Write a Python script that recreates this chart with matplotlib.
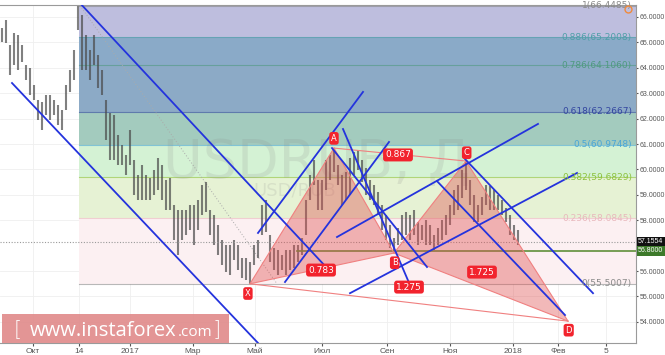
import matplotlib
matplotlib.use("Agg")
import matplotlib.pyplot as plt
from matplotlib.patches import Rectangle

# bar highs / lows (one bar per index)
highs = [65.57, 65.88, 64.90, 65.37, 65.29, 64.90, 64.11, 63.99, 63.32, 62.73,
         62.65, 62.93, 62.93, 62.73, 62.54, 62.34, 63.32, 63.91, 64.70, 66.45,
         66.08, 65.29, 64.70, 65.29, 64.50, 63.91, 62.73, 62.22, 62.14, 61.35,
         60.96, 60.57, 61.55, 60.37, 59.78, 60.17, 59.78, 59.66, 59.98, 60.45,
         60.17, 59.58, 59.66, 58.60, 58.40, 58.40, 58.40, 58.60, 58.60, 58.80,
         59.39, 59.50, 58.40, 58.21, 57.81, 57.22, 57.02, 57.02, 57.22, 57.02,
         56.51, 56.51, 56.35, 57.02, 57.22, 58.60, 58.80, 57.42, 56.91, 56.83,
         56.63, 56.83, 56.83, 57.02, 57.02, 57.30, 58.80, 59.78, 60.37, 59.58,
         59.58, 60.37, 60.57, 60.84, 60.17, 59.78, 59.90, 60.45, 60.68, 60.76,
         60.37, 60.05, 59.58, 59.39, 59.11, 58.60, 58.21, 57.81, 57.30, 57.69,
         58.21, 58.32, 58.21, 58.40, 57.93, 57.81, 58.01, 57.81, 57.42, 57.69,
         58.01, 58.21, 58.60, 59.19, 59.39, 59.98, 60.33, 59.58, 58.99, 58.60,
         58.91, 59.39, 59.35, 59.19, 58.99, 58.80, 58.48, 58.21, 57.81, 57.61]
lows = [65.02, 64.98, 63.72, 64.11, 63.91, 64.23, 63.52, 62.93, 62.73, 61.94,
        61.55, 62.14, 61.94, 62.14, 61.75, 61.55, 62.34, 63.05, 63.52, 65.49,
        63.91, 63.91, 63.52, 64.11, 63.20, 62.93, 61.16, 60.37, 60.37, 60.17,
        60.17, 59.78, 60.17, 58.99, 58.80, 58.80, 58.80, 58.80, 58.99, 59.19,
        58.80, 58.40, 58.40, 57.22, 56.63, 57.22, 57.42, 57.61, 57.02, 57.61,
        58.21, 58.32, 57.42, 57.02, 56.63, 56.24, 55.96, 55.84, 56.43, 56.04,
        55.72, 55.65, 55.50, 56.24, 56.51, 57.42, 57.53, 56.35, 56.04, 55.84,
        56.04, 55.84, 56.04, 56.12, 56.35, 56.63, 57.42, 58.80, 59.39, 58.40,
        58.40, 59.19, 59.58, 59.90, 59.39, 58.60, 58.80, 58.99, 59.78, 59.98,
        59.50, 58.99, 58.80, 58.60, 58.21, 57.61, 57.22, 56.91, 56.71, 57.02,
        57.22, 57.42, 57.22, 57.42, 57.02, 57.22, 57.02, 57.02, 56.83, 57.02,
        57.22, 57.42, 57.81, 58.21, 58.40, 58.87, 59.19, 58.60, 57.93, 57.93,
        58.21, 58.60, 58.40, 58.40, 58.40, 58.21, 57.93, 57.42, 57.22, 57.02]

last_price = 57.1554
level_price = 56.8000
level_start = 73.75

# fibonacci retracement
fib_ratios = [1, 0.886, 0.786, 0.618, 0.5, 0.382, 0.236, 0]
fib_prices = [66.4485, 65.2008, 64.1060, 62.2667, 60.9748, 59.6829, 58.0845, 55.5007]
fib_start = 19.25
fib_trend_x = [19.5, 68.75]
fib_trend_p = [66.45, 55.50]

# harmonic pattern points
pat_names = ["X", "A", "B", "C", "D"]
pat_x = [62, 83, 98, 116, 141.5]
pat_p = [55.50, 60.84, 56.71, 60.33, 54.03]

ratio_text = ["0.783", "0.867", "1.275", "1.725"]
ratio_x = [79.75, 99, 101.75, 120]
ratio_p = [56.04, 60.57, 55.37, 55.96]

# trend lines (start index, start price, end index, end price)
tl_x0 = [18.75, 2.5, 64, 70.75, 85.25, 82.5, 83.75, 87, 108.75, 115.75]
tl_p0 = [66.67, 63.40, 57.50, 55.57, 61.59, 60.84, 57.34, 55.13, 59.54, 60.41]
tl_x1 = [81.25, 64, 90.25, 96.75, 102, 106.25, 134, 143.75, 140.75, 147.75]
tl_p1 = [56.12, 53.17, 63.05, 61.08, 55.45, 56.16, 61.79, 59.86, 54.27, 55.13]

tick_pos = [7.75, 19.25, 32, 47.75, 63.25, 80, 96.25, 112, 127.75, 139, 151]
tick_lab = ["Окт", "14", "2017", "Мар", "Май", "Июл", "Сен", "Ноя", "2018", "Фев", "5"]
price_ticks = [54, 55, 56, 58, 59, 60, 61, 62, 63, 64, 65, 66]

band_colors = ["#BEBEDE", "#8AAAC8", "#8CAAC6", "#A3CBBE", "#D4F2D4", "#E6F2D4", "#FCF0F2"]
label_colors = ["#8a8a8a", "#4f9fa8", "#4f9a80", "#3346a0", "#4aa6d6", "#8cc23c", "#e8b8bc", "#8a8a8a"]

fig = plt.figure(figsize=(6.65, 3.55), dpi=100)
ax = fig.add_axes([0, 12 / 355, 636 / 665, 338 / 355])
xmax = 158.5
ax.set_xlim(-0.5, xmax)
ax.set_ylim(53.17, 66.47)

ax.grid(color="#efefef", lw=0.6, zorder=0)
ax.set_axisbelow(True)

# -------- fib bands --------
for k in range(len(fib_prices) - 1):
    ax.fill_between([fib_start, xmax], fib_prices[k + 1], fib_prices[k],
                    color=band_colors[k], lw=0, zorder=1)
for k, (r, p) in enumerate(zip(fib_ratios, fib_prices)):
    ax.plot([fib_start, xmax], [p, p], color=label_colors[k], lw=0.8, alpha=0.6, zorder=1.5)
    ax.text(157.5, p, f"{r:g}({p:.4f})", ha="right", va="center",
            fontsize=6.5, color=label_colors[k], zorder=6)
ax.plot(fib_trend_x, fib_trend_p, color="#aaaaaa", lw=0.7, ls=(0, (1, 2)), zorder=1.6)
ax.plot([156.5], [66.33], "o", mfc="none", mec="#f08a3c", ms=5, mew=1, zorder=7)

# -------- watermarks --------
ax.text(40.25, 59.65, "USDRUB, Д", fontsize=39, color="#888888", alpha=0.16,
        ha="left", va="baseline", zorder=1.8)
ax.text(62.75, 58.99, "USD/RUB", fontsize=13, color="#888888", alpha=0.16,
        ha="left", va="baseline", zorder=1.8)

# -------- price bars --------
idx = list(range(len(highs)))
ax.vlines(idx, lows, highs, color="#4a4a4a", lw=1.5, alpha=0.7, zorder=2)

# -------- horizontal price lines --------
ax.axhline(last_price, color="#9a9a9a", lw=0.8, ls=(0, (1, 1.5)), zorder=2.5)
ax.plot([level_start, xmax], [level_price, level_price], color="#5f8f3a", lw=1.2, zorder=2.5)

# -------- harmonic pattern --------
pink = "#E05050"
edge = "#F08080"
ax.fill(pat_x[0:3], pat_p[0:3], color=pink, alpha=0.4, lw=0, zorder=3)
ax.fill(pat_x[2:5], pat_p[2:5], color=pink, alpha=0.4, lw=0, zorder=3)
for a, b in [(0, 1), (1, 2), (0, 2), (2, 3), (3, 4), (2, 4), (1, 3), (0, 4)]:
    ax.plot([pat_x[a], pat_x[b]], [pat_p[a], pat_p[b]], color=edge, lw=0.8, zorder=3.2)

# -------- trend lines --------
for x0, p0, x1, p1 in zip(tl_x0, tl_p0, tl_x1, tl_p1):
    ax.plot([x0, x1], [p0, p1], color="#2433DD", lw=1.3, zorder=4)

box = dict(boxstyle="round,pad=0.22,rounding_size=0.3", fc="#F2232D", ec="none")
for t, x, p in zip(ratio_text, ratio_x, ratio_p):
    ax.text(x, p, t, ha="center", va="center", fontsize=6.5, color="white", bbox=box, zorder=8)
offsets = [(-1.5, -7), (0, 7), (0.5, -7), (0.5, 6), (0.5, -6.5)]
for name, x, p, off in zip(pat_names, pat_x, pat_p, offsets):
    ax.annotate(name, (x, p), xytext=off, textcoords="offset points", ha="center", va="center",
                fontsize=6, color="white", bbox=box, zorder=8)

# -------- instaforex box --------
ax.add_patch(Rectangle((0.003, 0.0), 0.357, 0.085, transform=ax.transAxes,
                       fc="#E08A8A", ec="none", alpha=0.9, zorder=9))
ax.text(0.022, 0.04, "[", transform=ax.transAxes, fontsize=15, color="white",
        ha="left", va="center", zorder=10, fontweight="light")
ax.text(0.047, 0.036, "www.instaforex", transform=ax.transAxes, fontsize=14.5, color="white",
        ha="left", va="center", zorder=10, family="Open Sans")
ax.text(0.279, 0.03, ".com", transform=ax.transAxes, fontsize=11, color="white",
        ha="left", va="center", zorder=10, family="Open Sans")
ax.text(0.334, 0.04, "]", transform=ax.transAxes, fontsize=15, color="white",
        ha="left", va="center", zorder=10, fontweight="light")

# -------- axes --------
ax.set_xticks(tick_pos)
ax.set_xticklabels(tick_lab, family="Liberation Sans")
ax.yaxis.tick_right()
ax.set_yticks(price_ticks)
ax.set_yticklabels([f"{v:.4f}" for v in price_ticks], family="Liberation Sans")
ax.tick_params(axis="x", labelsize=6, colors="#555555", length=2, pad=1.5)
ax.tick_params(axis="y", labelsize=5, colors="#555555", length=1.5, pad=1)
ax.spines["left"].set_visible(False)
for side in ["top", "right", "bottom"]:
    ax.spines[side].set_color("#9a9a9a")
    ax.spines[side].set_linewidth(0.8)

ytr = ax.get_yaxis_transform()
ax.text(1.003, last_price, f"{last_price:.4f}", transform=ytr, ha="left", va="center",
        fontsize=5, color="white", clip_on=False, zorder=10, family="Liberation Sans",
        bbox=dict(boxstyle="square,pad=0.2", fc="#111111", ec="none"))
ax.text(1.003, level_price, f"{level_price:.4f}", transform=ytr, ha="left", va="center",
        fontsize=5, color="white", clip_on=False, zorder=10, family="Liberation Sans",
        bbox=dict(boxstyle="square,pad=0.2", fc="#3d7a2a", ec="none"))

fig.savefig("out.png", dpi=100)
